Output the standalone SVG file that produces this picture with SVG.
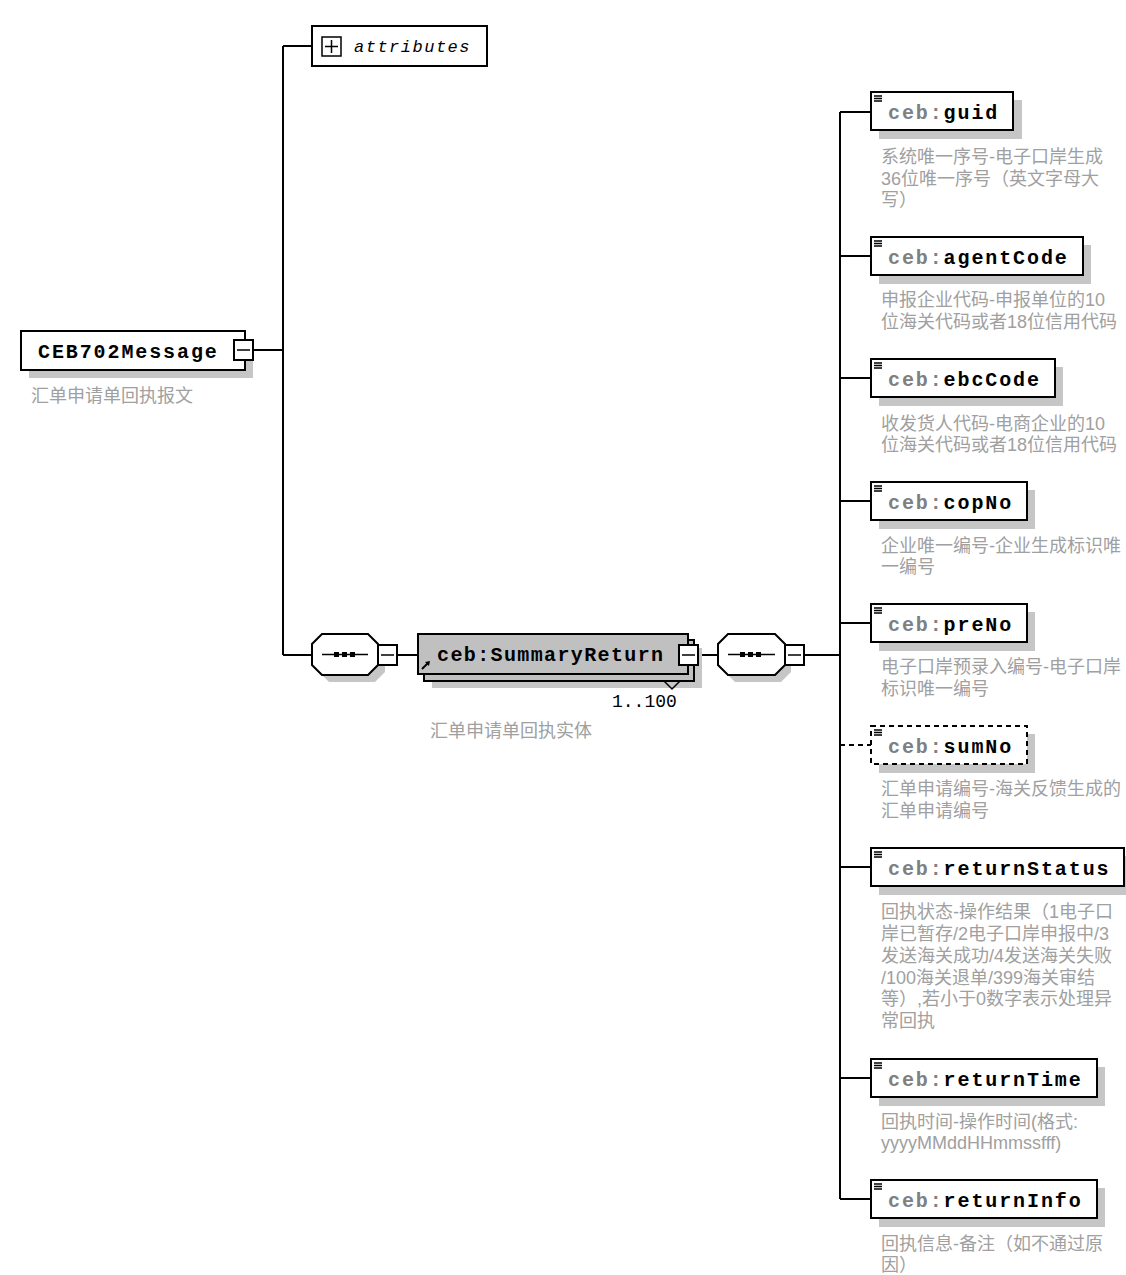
<svg xmlns="http://www.w3.org/2000/svg" width="1126" height="1275" viewBox="0 0 1126 1275">
<style>
.bg{fill:#ffffff}
.box{fill:#ffffff;stroke:#000;stroke-width:2}
.dbox{fill:#ffffff;stroke:#000;stroke-width:2;stroke-dasharray:5,4}
.gbox{fill:#c0c0c0;stroke:#000;stroke-width:2}
.sh{fill:#c6c6c6}
.ln{fill:none;stroke:#000;stroke-width:2}
.dln{fill:none;stroke:#000;stroke-width:2;stroke-dasharray:5,4}
.thin{fill:none;stroke:#000;stroke-width:1.5}
.nm{font-family:"Liberation Mono","DejaVu Sans Mono",monospace;font-weight:bold;font-size:20px;letter-spacing:1.9px;fill:#000}
.pf{fill:#808080}
.at{font-family:"Liberation Mono","DejaVu Sans Mono",monospace;font-style:italic;font-size:17px;letter-spacing:1.5px;fill:#000}
.ds{font-family:"Liberation Sans","Noto Sans CJK SC",sans-serif;font-size:18px;fill:#a0a0a0}
.oc{font-family:"Liberation Mono","DejaVu Sans Mono",monospace;font-size:18px;fill:#000}
</style>
<rect class="bg" x="0" y="0" width="1126" height="1275"/>

<g id="connectors">
<path class="ln" d="M283,46 V655 M283,46 H312 M254,350 H283 M283,655 H312 M397,655 H418 M698,655 H718 M805,655 H840 M840,112 V1199"/>
<path class="ln" d="M840,112 H871 M840,256 H871 M840,378 H871 M840,501 H871 M840,623 H871 M840,867 H871 M840,1078 H871 M840,1199 H871"/>
<path class="dln" d="M840,745 H871"/>
</g>

<g id="attributes">
<rect class="box" x="312" y="26" width="175" height="40"/>
<rect class="thin" x="322" y="37" width="19" height="19"/>
<path class="thin" d="M325,46.5 H338 M331.5,40 V53"/>
<text class="at" x="354" y="52">attributes</text>
</g>

<g id="CEB702Message">
<rect class="sh" x="29" y="339" width="224" height="39"/>
<rect class="box" x="21" y="331" width="224" height="39"/>
<text class="nm" x="38" y="358">CEB702Message</text>
<rect class="box" x="234" y="340" width="19" height="20"/>
<path class="thin" d="M237,350 H250"/>
<text class="ds" x="31" y="402">汇单申请单回执报文</text>
</g>

<g id="seq1">
<polygon class="sh" points="329,641 375,641 385,651 385,672 375,682 329,682 319,672 319,651"/>
<polygon class="box" points="322,634 368,634 378,644 378,665 368,675 322,675 312,665 312,644"/>
<path class="thin" d="M322,654.5 H368"/>
<rect x="334" y="652" width="5" height="5" fill="#000"/>
<rect x="342" y="652" width="5" height="5" fill="#000"/>
<rect x="350" y="652" width="5" height="5" fill="#000"/>
<rect class="box" x="378" y="645" width="19" height="20"/>
<path class="thin" d="M381,655 H394"/>
</g>

<g id="SummaryReturn">
<rect class="sh" x="432" y="648" width="270" height="40"/>
<rect class="gbox" x="424" y="640" width="270" height="41"/>
<rect class="gbox" x="418" y="634" width="270" height="40"/>
<text class="nm" x="437" y="661" textLength="228" lengthAdjust="spacing">ceb:SummaryReturn</text>
<path d="M422,669 L428,663" stroke="#000" stroke-width="2"/>
<polygon points="425,662 430,661 429,666" fill="#000"/>
<rect class="box" x="679" y="645" width="19" height="20"/>
<path class="thin" d="M682,655 H695"/>
<path class="thin" d="M664,681 L672,689 L680,681"/>
<text class="oc" x="612" y="707">1..100</text>
<text class="ds" x="430" y="737">汇单申请单回执实体</text>
</g>

<g id="seq2">
<polygon class="sh" points="735,641 781,641 791,651 791,672 781,682 735,682 725,672 725,651"/>
<polygon class="box" points="728,634 775,634 785,644 785,665 775,675 728,675 718,665 718,644"/>
<path class="thin" d="M728,654.5 H775"/>
<rect x="740" y="652" width="5" height="5" fill="#000"/>
<rect x="748" y="652" width="5" height="5" fill="#000"/>
<rect x="756" y="652" width="5" height="5" fill="#000"/>
<rect class="box" x="785" y="645" width="19" height="20"/>
<path class="thin" d="M788,655 H801"/>
</g>

<g id="guid">
<rect class="sh" x="879" y="100" width="143" height="39"/>
<rect class="box" x="871" y="92" width="142" height="38"/>
<path class="thin" d="M874,96 H882 M874,98.5 H882 M874,101 H882"/>
<text class="nm" x="888" y="119"><tspan class="pf">ceb:</tspan>guid</text>
<text class="ds" x="881" y="163">系统唯一序号-电子口岸生成</text>
<text class="ds" x="881" y="185">36位唯一序号（英文字母大</text>
<text class="ds" x="881" y="206">写）</text>
</g>

<g id="agentCode">
<rect class="sh" x="879" y="245" width="212" height="39"/>
<rect class="box" x="871" y="237" width="212" height="38"/>
<path class="thin" d="M874,241 H882 M874,243.5 H882 M874,246 H882"/>
<text class="nm" x="888" y="264"><tspan class="pf">ceb:</tspan>agentCode</text>
<text class="ds" x="881" y="306">申报企业代码-申报单位的10</text>
<text class="ds" x="881" y="328">位海关代码或者18位信用代码</text>
</g>

<g id="ebcCode">
<rect class="sh" x="879" y="367" width="184" height="39"/>
<rect class="box" x="871" y="359" width="184" height="38"/>
<path class="thin" d="M874,363 H882 M874,365.5 H882 M874,368 H882"/>
<text class="nm" x="888" y="386"><tspan class="pf">ceb:</tspan>ebcCode</text>
<text class="ds" x="881" y="430">收发货人代码-电商企业的10</text>
<text class="ds" x="881" y="451">位海关代码或者18位信用代码</text>
</g>

<g id="copNo">
<rect class="sh" x="879" y="490" width="156" height="39"/>
<rect class="box" x="871" y="482" width="156" height="38"/>
<path class="thin" d="M874,486 H882 M874,488.5 H882 M874,491 H882"/>
<text class="nm" x="888" y="509"><tspan class="pf">ceb:</tspan>copNo</text>
<text class="ds" x="881" y="552">企业唯一编号-企业生成标识唯</text>
<text class="ds" x="881" y="573">一编号</text>
</g>

<g id="preNo">
<rect class="sh" x="879" y="612" width="156" height="39"/>
<rect class="box" x="871" y="604" width="156" height="38"/>
<path class="thin" d="M874,608 H882 M874,610.5 H882 M874,613 H882"/>
<text class="nm" x="888" y="631"><tspan class="pf">ceb:</tspan>preNo</text>
<text class="ds" x="881" y="673">电子口岸预录入编号-电子口岸</text>
<text class="ds" x="881" y="695">标识唯一编号</text>
</g>

<g id="sumNo">
<rect class="sh" x="879" y="734" width="156" height="39"/>
<rect class="dbox" x="871" y="726" width="156" height="38"/>
<path class="thin" d="M874,730 H882 M874,732.5 H882 M874,735 H882"/>
<text class="nm" x="888" y="753"><tspan class="pf">ceb:</tspan>sumNo</text>
<text class="ds" x="881" y="795">汇单申请编号-海关反馈生成的</text>
<text class="ds" x="881" y="817">汇单申请编号</text>
</g>

<g id="returnStatus">
<rect class="sh" x="879" y="856" width="253" height="39"/>
<rect class="box" x="871" y="848" width="253" height="38"/>
<path class="thin" d="M874,852 H882 M874,854.5 H882 M874,857 H882"/>
<text class="nm" x="888" y="875"><tspan class="pf">ceb:</tspan>returnStatus</text>
<text class="ds" x="881" y="918">回执状态-操作结果（1电子口</text>
<text class="ds" x="881" y="940">岸已暂存/2电子口岸申报中/3</text>
<text class="ds" x="881" y="962">发送海关成功/4发送海关失败</text>
<text class="ds" x="881" y="984">/100海关退单/399海关审结</text>
<text class="ds" x="881" y="1005">等）,若小于0数字表示处理异</text>
<text class="ds" x="881" y="1027">常回执</text>
</g>

<g id="returnTime">
<rect class="sh" x="879" y="1067" width="226" height="39"/>
<rect class="box" x="871" y="1059" width="226" height="38"/>
<path class="thin" d="M874,1063 H882 M874,1065.5 H882 M874,1068 H882"/>
<text class="nm" x="888" y="1086"><tspan class="pf">ceb:</tspan>returnTime</text>
<text class="ds" x="881" y="1128">回执时间-操作时间(格式:</text>
<text class="ds" x="881" y="1149">yyyyMMddHHmmssfff)</text>
</g>

<g id="returnInfo">
<rect class="sh" x="879" y="1188" width="226" height="39"/>
<rect class="box" x="871" y="1180" width="226" height="38"/>
<path class="thin" d="M874,1184 H882 M874,1186.5 H882 M874,1189 H882"/>
<text class="nm" x="888" y="1207"><tspan class="pf">ceb:</tspan>returnInfo</text>
<text class="ds" x="881" y="1250">回执信息-备注（如不通过原</text>
<text class="ds" x="881" y="1271">因）</text>
</g>
</svg>
